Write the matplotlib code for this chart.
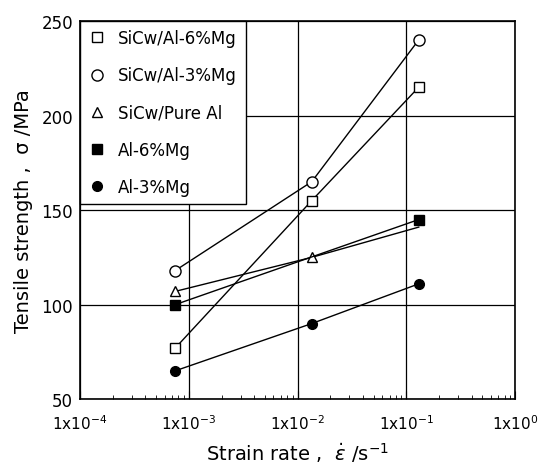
import numpy as np
import matplotlib.pyplot as plt
from matplotlib.ticker import LogLocator, NullFormatter, FixedLocator

# strain rates (s^-1)
rate = [7.5e-4, 1.35e-2, 1.3e-1]

sicw_al6mg = [77, 155, 215]
sicw_al3mg = [118, 165, 240]
sicw_pure_al = [107, 125, 141]   # last point has no marker in the original
al6mg_rate = [7.5e-4, 1.3e-1]
al6mg = [100, 145]
al3mg = [65, 90, 111]

x_ticks = [1e-4, 1e-3, 1e-2, 1e-1, 1e0]
x_labels = ['1x10$^{-4}$', '1x10$^{-3}$', '1x10$^{-2}$', '1x10$^{-1}$', '1x10$^{0}$']
y_ticks = [50, 100, 150, 200, 250]

plt.rcParams['font.family'] = ['DejaVu Sans']

fig = plt.figure(figsize=(5.44, 4.77), dpi=100)
ax = fig.add_axes([0.147, 0.161, 0.80, 0.793])

lw = 1.0
ms = 7
ax.plot(rate, sicw_al6mg, '-s', color='black', lw=lw, ms=ms, mfc='white', mew=1.0, label='SiCw/Al-6%Mg')
ax.plot(rate, sicw_al3mg, '-o', color='black', lw=lw, ms=ms + 1, mfc='white', mew=1.0, label='SiCw/Al-3%Mg')
ax.plot(rate, sicw_pure_al, '-^', color='black', lw=lw, ms=ms, mfc='white', mew=1.0,
        markevery=[0, 1], label='SiCw/Pure Al')
ax.plot(al6mg_rate, al6mg, '-s', color='black', lw=lw, ms=ms, mfc='black', label='Al-6%Mg')
ax.plot(rate, al3mg, '-o', color='black', lw=lw, ms=ms, mfc='black', label='Al-3%Mg')

ax.set_xscale('log')
ax.set_xlim(1e-4, 1e0)
ax.set_ylim(50, 250)
ax.xaxis.set_major_locator(FixedLocator(x_ticks))
ax.set_xticklabels(x_labels)
ax.xaxis.set_minor_locator(LogLocator(base=10, subs=np.arange(2, 10)))
ax.xaxis.set_minor_formatter(NullFormatter())
ax.set_yticks(y_ticks)

ax.tick_params(axis='x', which='major', direction='in', length=6, labelsize=11, pad=10)
ax.tick_params(axis='x', which='minor', direction='in', length=3)
ax.tick_params(axis='y', which='major', length=0, labelsize=12, pad=5)
ax.grid(True, which='major', color='black', lw=0.9)

for s in ax.spines.values():
    s.set_linewidth(1.2)

ax.set_xlabel('Strain rate ,  $\\dot{\\varepsilon}$ /s$^{-1}$', fontsize=14, labelpad=6)
ax.set_ylabel('Tensile strength ,  σ /MPa', fontsize=14, labelpad=6)

leg = ax.legend(loc='upper left', fontsize=12, frameon=True, fancybox=False,
                borderaxespad=0, handlelength=1.0, handletextpad=0.8,
                labelspacing=1.15, borderpad=0.5)
leg.get_frame().set_edgecolor('black')
leg.get_frame().set_linewidth(1.0)
leg.get_frame().set_alpha(1)
for h in leg.legend_handles:
    h.set_linestyle('none')

fig.savefig('out.png', dpi=100)
